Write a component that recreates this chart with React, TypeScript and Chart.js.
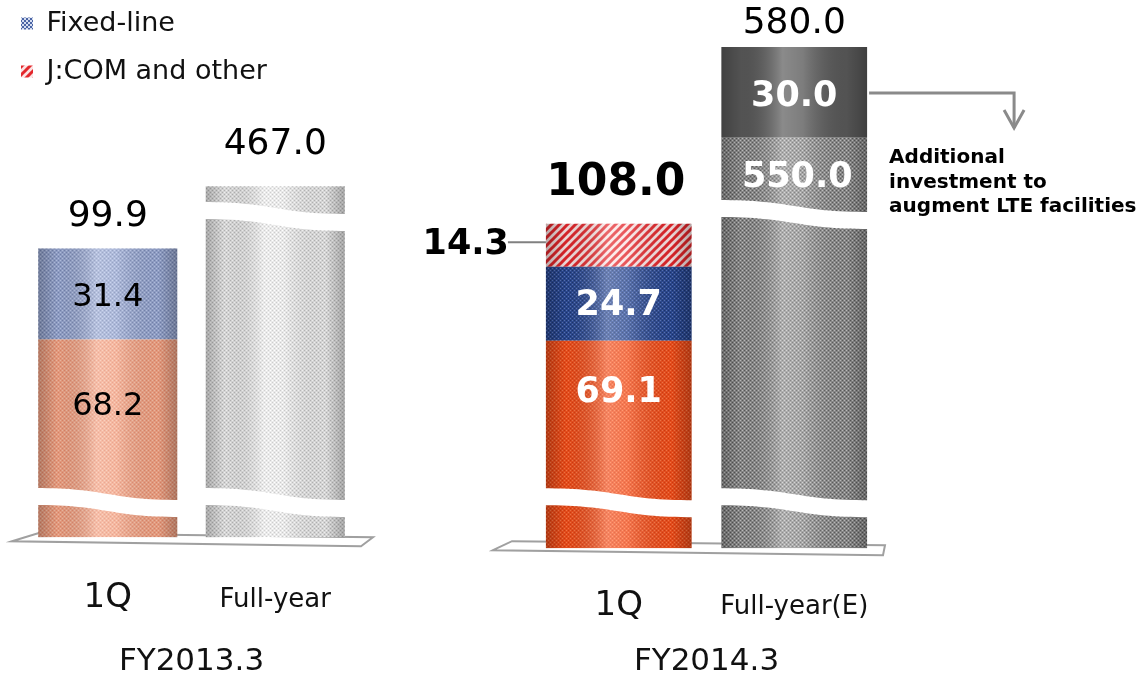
import React, { useEffect, useRef } from "react";
import { Chart, registerables } from "chart.js";

Chart.register(...registerables);

const FONT = "'DejaVu Sans', Verdana, sans-serif";

// ---------------- data ----------------
// FY2013.3
const FY13_CATEGORIES = ["1Q", "Full-year"];
const FY13_MAIN = [68.2, 467.0];
const FY13_FIXED = [31.4, null];
const FY13_TOTALS = [99.9, 467.0];
const FY13_BREAK_CUT = [0, 346]; // value hidden by the axis break

// FY2014.3
const FY14_CATEGORIES = ["1Q", "Full-year(E)"];
const FY14_MAIN = [69.1, 550.0];
const FY14_FIXED = [24.7, null];
const FY14_JCOM = [14.3, null];
const FY14_LTE = [null, 30.0];
const FY14_TOTALS = [108.0, 580.0];
const FY14_BREAK_CUT = [0, 413];

const GROUP_TITLES = ["FY2013.3", "FY2014.3"];
const LEGEND_LABELS = ["Fixed-line", "J:COM and other"];
const LTE_NOTE = ["Additional", "investment to", "augment LTE facilities"];

// ---------------- helpers ----------------
function makeCanvas(w: number, h: number) {
  const c = document.createElement("canvas");
  c.width = w;
  c.height = h;
  return c;
}

function texture(ctx: CanvasRenderingContext2D, base: string, light: string, dark: string) {
  const c = makeCanvas(4, 4);
  const g = c.getContext("2d")!;
  g.fillStyle = base;
  g.fillRect(0, 0, 4, 4);
  g.fillStyle = light;
  g.fillRect(0, 0, 1, 1);
  g.fillRect(2, 2, 1, 1);
  g.fillStyle = dark;
  g.fillRect(2, 0, 1, 1);
  g.fillRect(0, 2, 1, 1);
  return ctx.createPattern(c, "repeat")!;
}

function hatch(ctx: CanvasRenderingContext2D) {
  const c = makeCanvas(8, 8);
  const g = c.getContext("2d")!;
  g.fillStyle = "#fbe3e3";
  g.fillRect(0, 0, 8, 8);
  g.strokeStyle = "#e3262b";
  g.lineWidth = 3;
  g.beginPath();
  g.moveTo(-2, 10);
  g.lineTo(10, -2);
  g.moveTo(-6, 6);
  g.lineTo(6, -6);
  g.moveTo(2, 14);
  g.lineTo(14, 2);
  g.stroke();
  return ctx.createPattern(c, "repeat")!;
}

function checker(ctx: CanvasRenderingContext2D) {
  const c = makeCanvas(4, 4);
  const g = c.getContext("2d")!;
  g.fillStyle = "#d4dcf0";
  g.fillRect(0, 0, 4, 4);
  g.fillStyle = "#4a64a4";
  g.fillRect(0, 0, 2, 2);
  g.fillRect(2, 2, 2, 2);
  return ctx.createPattern(c, "repeat")!;
}

type Bar = { x: number; left: number; right: number; top: number; bottom: number };

function getBar(chart: any, ds: number, idx: number): Bar | null {
  const raw = chart.data.datasets[ds]?.data[idx];
  if (raw === null || raw === undefined) return null;
  const el: any = chart.getDatasetMeta(ds).data[idx];
  if (!el) return null;
  const { x, y, base, width } = el;
  if (!isFinite(x) || !isFinite(y)) return null;
  return { x, left: x - width / 2, right: x + width / 2, top: Math.min(y, base), bottom: Math.max(y, base) };
}

function stackBounds(chart: any, idx: number): Bar | null {
  let res: Bar | null = null;
  chart.data.datasets.forEach((_d: any, ds: number) => {
    const b = getBar(chart, ds, idx);
    if (!b) return;
    if (!res) res = { ...b };
    else {
      res.top = Math.min(res.top, b.top);
      res.bottom = Math.max(res.bottom, b.bottom);
    }
  });
  return res;
}

function label(ctx: CanvasRenderingContext2D, s: string, x: number, y: number, size: number, bold: boolean, color: string, align: CanvasTextAlign = "center") {
  ctx.font = `${bold ? "bold " : ""}${size}px ${FONT}`;
  ctx.fillStyle = color;
  ctx.textAlign = align;
  ctx.textBaseline = "middle";
  ctx.fillText(s, x, y);
}

function shadeBars(chart: any, ctx: CanvasRenderingContext2D) {
  chart.data.datasets.forEach((_d: any, ds: number) => {
    chart.data.labels.forEach((_l: any, idx: number) => {
      const b = getBar(chart, ds, idx);
      if (!b) return;
      const g = ctx.createLinearGradient(b.left, 0, b.right, 0);
      g.addColorStop(0, "rgba(0,0,0,0.26)");
      g.addColorStop(0.14, "rgba(0,0,0,0.06)");
      g.addColorStop(0.42, "rgba(255,255,255,0.30)");
      g.addColorStop(0.56, "rgba(255,255,255,0.22)");
      g.addColorStop(0.86, "rgba(0,0,0,0.06)");
      g.addColorStop(1, "rgba(0,0,0,0.28)");
      ctx.fillStyle = g;
      ctx.fillRect(b.left, b.top, b.right - b.left, b.bottom - b.top);
    });
  });
}

function drawBreak(ctx: CanvasRenderingContext2D, left: number, right: number, y: number) {
  const w = right - left;
  const drop = 12;
  const gap = 17;
  const l = left - 3;
  const r = right + 3;
  ctx.beginPath();
  ctx.moveTo(l, y);
  ctx.bezierCurveTo(left + w * 0.5, y, left + w * 0.5, y + drop, r, y + drop);
  ctx.lineTo(r, y + drop + gap);
  ctx.bezierCurveTo(left + w * 0.5, y + drop + gap, left + w * 0.5, y + gap, l, y + gap);
  ctx.closePath();
  ctx.fillStyle = "#ffffff";
  ctx.fill();
}

function drawBreaks(chart: any, ctx: CanvasRenderingContext2D, cuts: number[], low: number, high: number) {
  const ys = chart.scales.y;
  chart.data.labels.forEach((_l: any, idx: number) => {
    const s = stackBounds(chart, idx);
    if (!s) return;
    drawBreak(ctx, s.left, s.right, ys.getPixelForValue(low));
    if (cuts[idx] > 0) drawBreak(ctx, s.left, s.right, ys.getPixelForValue(high));
  });
}

function drawFloor(chart: any, ctx: CanvasRenderingContext2D, pts: number[][]) {
  const { left, right, bottom } = chart.chartArea;
  ctx.save();
  ctx.beginPath();
  ctx.moveTo(left + pts[0][0], bottom + pts[0][1]);
  ctx.lineTo(left + pts[1][0], bottom + pts[1][1]);
  ctx.lineTo(right + pts[2][0], bottom + pts[2][1]);
  ctx.lineTo(right + pts[3][0], bottom + pts[3][1]);
  ctx.closePath();
  ctx.strokeStyle = "#a0a0a0";
  ctx.lineWidth = 2;
  ctx.stroke();
  ctx.restore();
}

function baseOptions(title: string, tickPad: number, lh2: number, titlePadTop: number) {
  return {
    responsive: false,
    maintainAspectRatio: false,
    animation: false,
    events: [],
    scales: {
      x: {
        stacked: true,
        grid: { display: false, drawTicks: false },
        border: { display: false },
        ticks: {
          padding: tickPad,
          color: "#111",
          maxRotation: 0,
          autoSkip: false,
          font: (c: any) =>
            c.index === 0
              ? { family: FONT, size: 34, lineHeight: 1.2 }
              : { family: FONT, size: 26, lineHeight: lh2 },
        },
        title: {
          display: true,
          text: title,
          color: "#111",
          font: { family: FONT, size: 31, lineHeight: 1.2 },
          padding: { top: titlePadTop, bottom: 0 },
        },
      },
    },
  };
}

// ---------------- FY2013.3 chart ----------------
function buildFY13(canvas: HTMLCanvasElement) {
  const ctx = canvas.getContext("2d")!;
  const mainColors = [texture(ctx, "#f2a385", "#f8c2aa", "#e48a6c"), texture(ctx, "#e3e3e3", "#ffffff", "#bcbcbc")];
  const fixedColor = texture(ctx, "#97a6cf", "#bac7ea", "#7888b4");
  const legendFills = [checker(ctx), hatch(ctx)];

  const plugin = {
    id: "fy13decor",
    beforeDatasetsDraw(chart: any) {
      drawFloor(chart, chart.ctx, [[-12, 4], [14, -4], [14, 0], [2, 9]]);
    },
    afterDatasetsDraw(chart: any) {
      const c = chart.ctx as CanvasRenderingContext2D;
      c.save();
      shadeBars(chart, c);
      drawBreaks(chart, c, FY13_BREAK_CUT, 17, 115.6);
      const main = getBar(chart, 0, 0);
      if (main) label(c, (FY13_MAIN[0] as number).toFixed(1), main.x, main.top + 0.34 * (main.bottom - main.top), 32, false, "#000");
      const fixed = getBar(chart, 1, 0);
      if (fixed) label(c, (FY13_FIXED[0] as number).toFixed(1), fixed.x, (fixed.top + fixed.bottom) / 2 + 4, 32, false, "#000");
      const offsets = [32, 42];
      FY13_TOTALS.forEach((t, i) => {
        const s = stackBounds(chart, i);
        if (s) label(c, t.toFixed(1), s.x, s.top - offsets[i], 36, false, "#000");
      });
      c.restore();
    },
  };

  const opts: any = baseOptions(GROUP_TITLES[0], 40, 1.75, -19);
  opts.layout = { padding: { left: 0, right: 789, top: -11, bottom: -6 } };
  opts.scales.y = {
    stacked: true,
    min: 0,
    max: 152.5,
    display: true,
    ticks: { display: false },
    grid: { display: false },
    border: { display: false },
    afterFit: (s: any) => {
      s.width = 24;
    },
  };
  opts.plugins = {
    tooltip: { enabled: false },
    legend: {
      display: true,
      position: "top",
      align: "start",
      fullSize: true,
      onClick: () => {},
      labels: {
        boxWidth: 12,
        boxHeight: 12,
        padding: 21,
        color: "#111",
        font: { family: FONT, size: 27 },
        generateLabels: () =>
          LEGEND_LABELS.map((text, i) => ({
            text,
            fillStyle: legendFills[i],
            strokeStyle: "rgba(0,0,0,0)",
            lineWidth: 0,
            hidden: false,
            fontColor: "#111",
          })),
      },
    },
  };

  return new Chart(canvas, {
    type: "bar",
    data: {
      labels: FY13_CATEGORIES,
      datasets: [
        {
          label: "Mobile / Total",
          data: FY13_MAIN.map((v, i) => v - FY13_BREAK_CUT[i]),
          backgroundColor: mainColors,
          borderWidth: 0,
          barPercentage: 0.83,
          categoryPercentage: 1,
        },
        {
          label: LEGEND_LABELS[0],
          data: FY13_FIXED,
          backgroundColor: fixedColor,
          borderWidth: 0,
          barPercentage: 0.83,
          categoryPercentage: 1,
        },
      ],
    },
    options: opts,
    plugins: [plugin],
  } as any);
}

// ---------------- FY2014.3 chart ----------------
function buildFY14(canvas: HTMLCanvasElement) {
  const ctx = canvas.getContext("2d")!;
  const mainColors = [texture(ctx, "#f2511e", "#ff7a48", "#dc3c0c"), texture(ctx, "#8e8e8e", "#c6c6c6", "#5c5c5c")];
  const fixedColor = texture(ctx, "#2c4a94", "#5c78bc", "#1c356e");
  const jcomColor = hatch(ctx);
  const lteColor = "#585858";

  const plugin = {
    id: "fy14decor",
    beforeDatasetsDraw(chart: any) {
      drawFloor(chart, chart.ctx, [[-38, 2], [-19, -7], [3, -3], [1, 7]]);
    },
    afterDatasetsDraw(chart: any) {
      const c = chart.ctx as CanvasRenderingContext2D;
      c.save();
      shadeBars(chart, c);
      drawBreaks(chart, c, FY14_BREAK_CUT, 20, 116);

      const m0 = getBar(chart, 0, 0);
      if (m0) label(c, (FY14_MAIN[0] as number).toFixed(1), m0.x, m0.top + 0.25 * (m0.bottom - m0.top), 35, true, "#fff");
      const m1 = getBar(chart, 0, 1);
      if (m1) label(c, (FY14_MAIN[1] as number).toFixed(1), m1.x + 3, m1.top + 41, 35, true, "#fff");
      const f0 = getBar(chart, 1, 0);
      if (f0) label(c, (FY14_FIXED[0] as number).toFixed(1), f0.x, (f0.top + f0.bottom) / 2 + 2, 35, true, "#fff");
      const l1 = getBar(chart, 3, 1);
      if (l1) label(c, (FY14_LTE[1] as number).toFixed(1), l1.x, (l1.top + l1.bottom) / 2 + 5, 35, true, "#fff");

      const j0 = getBar(chart, 2, 0);
      if (j0) {
        const cy = (j0.top + j0.bottom) / 2;
        c.strokeStyle = "#808080";
        c.lineWidth = 2;
        c.beginPath();
        c.moveTo(j0.left - 38, cy - 3);
        c.lineTo(j0.left, cy - 3);
        c.stroke();
        label(c, (FY14_JCOM[0] as number).toFixed(1), j0.left - 37, cy, 35, true, "#000", "right");
      }

      const s0 = stackBounds(chart, 0);
      if (s0) label(c, FY14_TOTALS[0].toFixed(1), s0.x - 3, s0.top - 40, 44, true, "#000");
      const s1 = stackBounds(chart, 1);
      if (s1) label(c, FY14_TOTALS[1].toFixed(1), s1.x, s1.top - 23, 36, false, "#000");

      if (l1) {
        const ay = (l1.top + l1.bottom) / 2 + 1;
        const ax = l1.right + 147;
        c.strokeStyle = "#8a8a8a";
        c.lineWidth = 3;
        c.lineJoin = "miter";
        c.beginPath();
        c.moveTo(l1.right + 2, ay);
        c.lineTo(ax, ay);
        c.lineTo(ax, ay + 35);
        c.stroke();
        c.beginPath();
        c.moveTo(ax - 10, ay + 17);
        c.lineTo(ax, ay + 35);
        c.lineTo(ax + 10, ay + 17);
        c.stroke();
        LTE_NOTE.forEach((t, i) => label(c, t, l1.right + 22, ay + 65 + i * 24.5, 20, true, "#000", "left"));
      }
      c.restore();
    },
  };

  const opts: any = baseOptions(GROUP_TITLES[1], 38, 1.6, -22);
  opts.layout = { padding: { left: 531, right: 266, top: 47, bottom: -6 } };
  opts.scales.y = { stacked: true, min: 0, max: 167, display: false };
  opts.plugins = { tooltip: { enabled: false }, legend: { display: false } };

  const common = { borderWidth: 0, barPercentage: 0.83, categoryPercentage: 1 };
  return new Chart(canvas, {
    type: "bar",
    data: {
      labels: FY14_CATEGORIES,
      datasets: [
        { label: "Mobile / Total", data: FY14_MAIN.map((v, i) => v - FY14_BREAK_CUT[i]), backgroundColor: mainColors, ...common },
        { label: LEGEND_LABELS[0], data: FY14_FIXED, backgroundColor: fixedColor, ...common },
        { label: LEGEND_LABELS[1], data: FY14_JCOM, backgroundColor: jcomColor, ...common },
        { label: "Additional LTE investment", data: FY14_LTE, backgroundColor: lteColor, ...common },
      ],
    },
    options: opts,
    plugins: [plugin],
  } as any);
}

function ChartCanvas({ build }: { build: (c: HTMLCanvasElement) => Chart }) {
  const ref = useRef<HTMLCanvasElement>(null);
  useEffect(() => {
    if (!ref.current) return;
    const chart = build(ref.current);
    return () => chart.destroy();
  }, [build]);
  return (
    <canvas
      ref={ref}
      width={1148}
      height={675}
      style={{ position: "absolute", left: 0, top: 0, width: 1148, height: 675 }}
    />
  );
}

export default function App() {
  return (
    <div style={{ position: "fixed", left: 0, top: 0, width: 1148, height: 675, background: "#fff", overflow: "hidden" }}>
      <ChartCanvas build={buildFY13} />
      <ChartCanvas build={buildFY14} />
    </div>
  );
}
